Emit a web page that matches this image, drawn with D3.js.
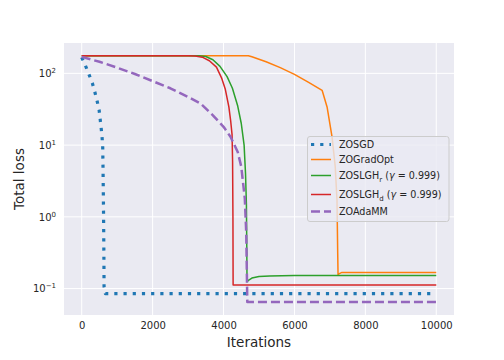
<!DOCTYPE html>
<html>
<head>
<meta charset="utf-8">
<script src="https://cdn.jsdelivr.net/npm/d3@7"></script>
<style>
body { margin: 0; background: #fff; }
text { font-family: "DejaVu Sans", sans-serif; fill: #262626; }
</style>
</head>
<body>
<script>
var width = 504;
var height = 360;

// series: iterations and total loss
const sgdIter  = [0, 100, 200, 300, 370, 435, 490, 520, 550, 575, 592, 600, 610, 618, 625, 630, 668, 10000];
const sgdLoss  = [167, 130, 98, 73, 55, 41, 31, 23, 17, 12.6, 9.4, 5, 2, 0.8, 0.3, 0.107, 0.085, 0.085];

const gradIter = [0, 4700, 4800, 5200, 5600, 6000, 6400, 6780, 6920, 7060, 7150, 7200, 7220, 7230, 7250, 7340, 10000];
const gradLoss = [176, 176, 170, 145, 120, 97, 75, 58, 34, 13, 5, 1.7, 0.31, 0.153, 0.16, 0.168, 0.168];

const lghrIter = [0, 3300, 3500, 3700, 3900, 4100, 4250, 4400, 4500, 4580, 4620, 4645, 4655, 4662, 4700, 4800, 5000, 5300, 6000, 10000];
const lghrLoss = [176, 176, 172, 155, 125, 90, 62, 35, 20, 10, 4, 1.5, 0.4, 0.124, 0.13, 0.14, 0.147, 0.15, 0.152, 0.152];

const lghdIter = [0, 3000, 3200, 3400, 3600, 3800, 3950, 4050, 4150, 4200, 4240, 4255, 4265, 4270, 10000];
const lghdLoss = [176, 176, 174, 168, 150, 122, 85, 60, 34, 22, 14, 6, 1, 0.112, 0.112];

const adaIter  = [0, 500, 1000, 1500, 2000, 2500, 3000, 3350, 3700, 4000, 4200, 4400, 4500, 4600, 4640, 4655, 4670, 10000];
const adaLoss  = [170, 145, 120, 98, 78, 62, 47, 38, 26, 18, 13, 8, 5, 1.8, 0.6, 0.2, 0.065, 0.065];

const xTicks = [0, 2000, 4000, 6000, 8000, 10000];
const yTicks = [-1, 0, 1, 2]; // powers of ten

const series = [
  {name: "ZOSGD", sub: null, x: sgdIter, y: sgdLoss, color: "#1f77b4", w: 3.2, dash: "3.2,6"},
  {name: "ZOGradOpt", sub: null, x: gradIter, y: gradLoss, color: "#ff7f0e", w: 1.5, dash: null},
  {name: "ZOSLGH", sub: "r", x: lghrIter, y: lghrLoss, color: "#2ca02c", w: 1.5, dash: null},
  {name: "ZOSLGH", sub: "d", x: lghdIter, y: lghdLoss, color: "#d62728", w: 1.5, dash: null},
  {name: "ZOAdaMM", sub: null, x: adaIter, y: adaLoss, color: "#9467bd", w: 2.5, dash: "9,4"}
];

var margin = {left: 64, right: 50, top: 43, bottom: 45};

var svg = d3.select("body").append("svg")
    .attr("width", width)
    .attr("height", height);

var x = d3.scaleLinear().domain([-500, 10500]).range([margin.left, width - margin.right]);
var y = d3.scaleLog().domain([0.0428, 265]).range([height - margin.bottom, margin.top]);

// background
svg.append("rect")
    .attr("x", margin.left).attr("y", margin.top)
    .attr("width", width - margin.left - margin.right)
    .attr("height", height - margin.top - margin.bottom)
    .attr("fill", "#eaeaf2");

svg.append("clipPath").attr("id", "clip")
  .append("rect")
    .attr("x", margin.left).attr("y", margin.top)
    .attr("width", width - margin.left - margin.right)
    .attr("height", height - margin.top - margin.bottom);

// grid
svg.append("g").selectAll("line").data(xTicks).enter().append("line")
    .attr("x1", d => x(d)).attr("x2", d => x(d))
    .attr("y1", margin.top).attr("y2", height - margin.bottom)
    .attr("stroke", "#fff").attr("stroke-width", 1);
svg.append("g").selectAll("line").data(yTicks).enter().append("line")
    .attr("y1", d => y(Math.pow(10, d))).attr("y2", d => y(Math.pow(10, d)))
    .attr("x1", margin.left).attr("x2", width - margin.right)
    .attr("stroke", "#fff").attr("stroke-width", 1);

// axes
var xAxis = svg.append("g")
    .attr("transform", "translate(0," + (height - margin.bottom) + ")")
    .call(d3.axisBottom(x).tickValues(xTicks).tickSize(0).tickPadding(7).tickFormat(d3.format("d")));
xAxis.select(".domain").remove();
xAxis.selectAll("text").attr("font-size", 10).attr("fill", "#262626").attr("font-family", "DejaVu Sans");

var yAxis = svg.append("g")
    .attr("transform", "translate(" + margin.left + ",0)")
    .call(d3.axisLeft(y).tickValues(yTicks.map(d => Math.pow(10, d))).tickSize(0).tickPadding(8).tickFormat(""));
yAxis.select(".domain").remove();
yAxis.selectAll(".tick text")
    .attr("font-size", 10).attr("fill", "#262626").attr("font-family", "DejaVu Sans")
    .each(function(d) {
      var t = d3.select(this);
      var p = Math.round(Math.log10(d));
      t.append("tspan").text("10");
      t.append("tspan").attr("dy", -4).attr("font-size", 7).text(p < 0 ? "\u2212" + (-p) : p);
    });

// axis labels
svg.append("text")
    .attr("x", (x(-500) + x(10500)) / 2).attr("y", 347)
    .attr("text-anchor", "middle").attr("font-size", 13.5)
    .text("Iterations");
svg.append("text")
    .attr("transform", "translate(24," + ((margin.top + height - margin.bottom) / 2) + ") rotate(-90)")
    .attr("text-anchor", "middle").attr("font-size", 13.5)
    .text("Total loss");

// lines
var line = d3.line()
    .x(d => x(d[0]))
    .y(d => y(d[1]));

var lines = svg.append("g").attr("clip-path", "url(#clip)");
series.forEach(function(s) {
  var pts = s.x.map((v, i) => [v, s.y[i]]);
  lines.append("path")
      .datum(pts)
      .attr("d", line)
      .attr("fill", "none")
      .attr("stroke", s.color)
      .attr("stroke-width", s.w)
      .attr("stroke-dasharray", s.dash)
      .attr("stroke-linejoin", "round");
});

// legend
var lg = svg.append("g");
lg.append("rect")
    .attr("x", 307.5).attr("y", 136.5).attr("width", 141.5).attr("height", 85)
    .attr("rx", 2.5)
    .attr("fill", "#eaeaf2").attr("fill-opacity", 0.8)
    .attr("stroke", "#cccccc").attr("stroke-width", 1);

var rowY = [144.5, 159.5, 175.5, 194.5, 211.5];
series.forEach(function(s, i) {
  var ry = rowY[i];
  lg.append("line")
      .attr("x1", 311).attr("x2", 331).attr("y1", ry).attr("y2", ry)
      .attr("stroke", s.color)
      .attr("stroke-width", s.w)
      .attr("stroke-dasharray", s.dash);
  var t = lg.append("text")
      .attr("x", 339).attr("y", ry + 3.5)
      .attr("font-size", 9.6);
  t.append("tspan").text(s.name);
  if (s.sub) {
    t.append("tspan").attr("dy", 2.5).attr("font-size", 7).text(s.sub);
    t.append("tspan").attr("dy", -2.5).text(" (");
    t.append("tspan").attr("font-style", "italic").text("\u03b3");
    t.append("tspan").text(" = 0.999)");
  }
});
</script>
</body>
</html>
